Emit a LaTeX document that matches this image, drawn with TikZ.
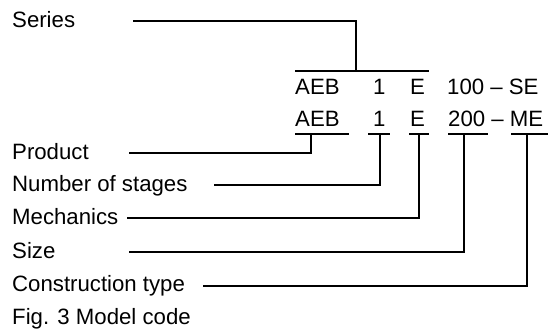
\documentclass[tikz,border=0pt]{standalone}
\usepackage{fontspec}
\setmainfont{Liberation Sans}
\begin{document}
\begin{tikzpicture}[x=1pt,y=-1pt,
  lbl/.style={anchor=base west,inner sep=0pt,font=\fontsize{22.2}{26}\selectfont},
  ln/.style={line width=1.3pt,line cap=rect}]
\useasboundingbox (0,0) rectangle (558,331);
% left labels
\node[lbl] (series) at (12,28) {Series};
\node[lbl] (product) at (12,160) {Product};
\node[lbl] (stages) at (12,192) {Number of stages};
\node[lbl] (mech) at (12,225) {Mechanics};
\node[lbl] (size) at (12,259) {Size};
\node[lbl] (constr) at (12,292) {Construction type};
\node[lbl] (fig) at (12,325) {Fig. 3 Model code};
% row 1
\node[lbl] (aeba) at (295,95) {AEB};
\node[lbl] (onea) at (373,95) {1};
\node[lbl] (ea) at (410,95) {E};
\node[lbl] (hunda) at (447,95) {100 – SE};
% row 2
\node[lbl] (aebb) at (295,127) {AEB};
\node[lbl] (oneb) at (373,127) {1};
\node[lbl] (eb) at (410,127) {E};
\node[lbl] (twob) at (448,127) {200 – ME};
% coordinates
\coordinate (sl) at (134,21);
\coordinate (sc) at (356,21);
\coordinate (so) at (356,71);
\coordinate (ol) at (296,71);
\coordinate (or) at (428,71);
% overline and series connector
\draw[ln] (ol) -- (or);
\draw[ln] (sl) -- (sc) -- (so);
% underlines
\draw[ln] (296,134) -- (348,134);
\draw[ln] (369,134) -- (389,134);
\draw[ln] (410,134) -- (428,134);
\draw[ln] (449,134) -- (487,134);
\draw[ln] (512,134) -- (547,134);
% connectors
\coordinate (p1) at (130,153);
\coordinate (p2) at (215,185);
\coordinate (p3) at (128,218);
\coordinate (p4) at (130,252);
\coordinate (p5) at (204,286);
\draw[ln] (p1) -- (311,153) -- (311,134);
\draw[ln] (p2) -- (380,185) -- (380,134);
\draw[ln] (p3) -- (419,218) -- (419,134);
\draw[ln] (p4) -- (464,252) -- (464,134);
\draw[ln] (p5) -- (527,286) -- (527,134);
\end{tikzpicture}
\end{document}
